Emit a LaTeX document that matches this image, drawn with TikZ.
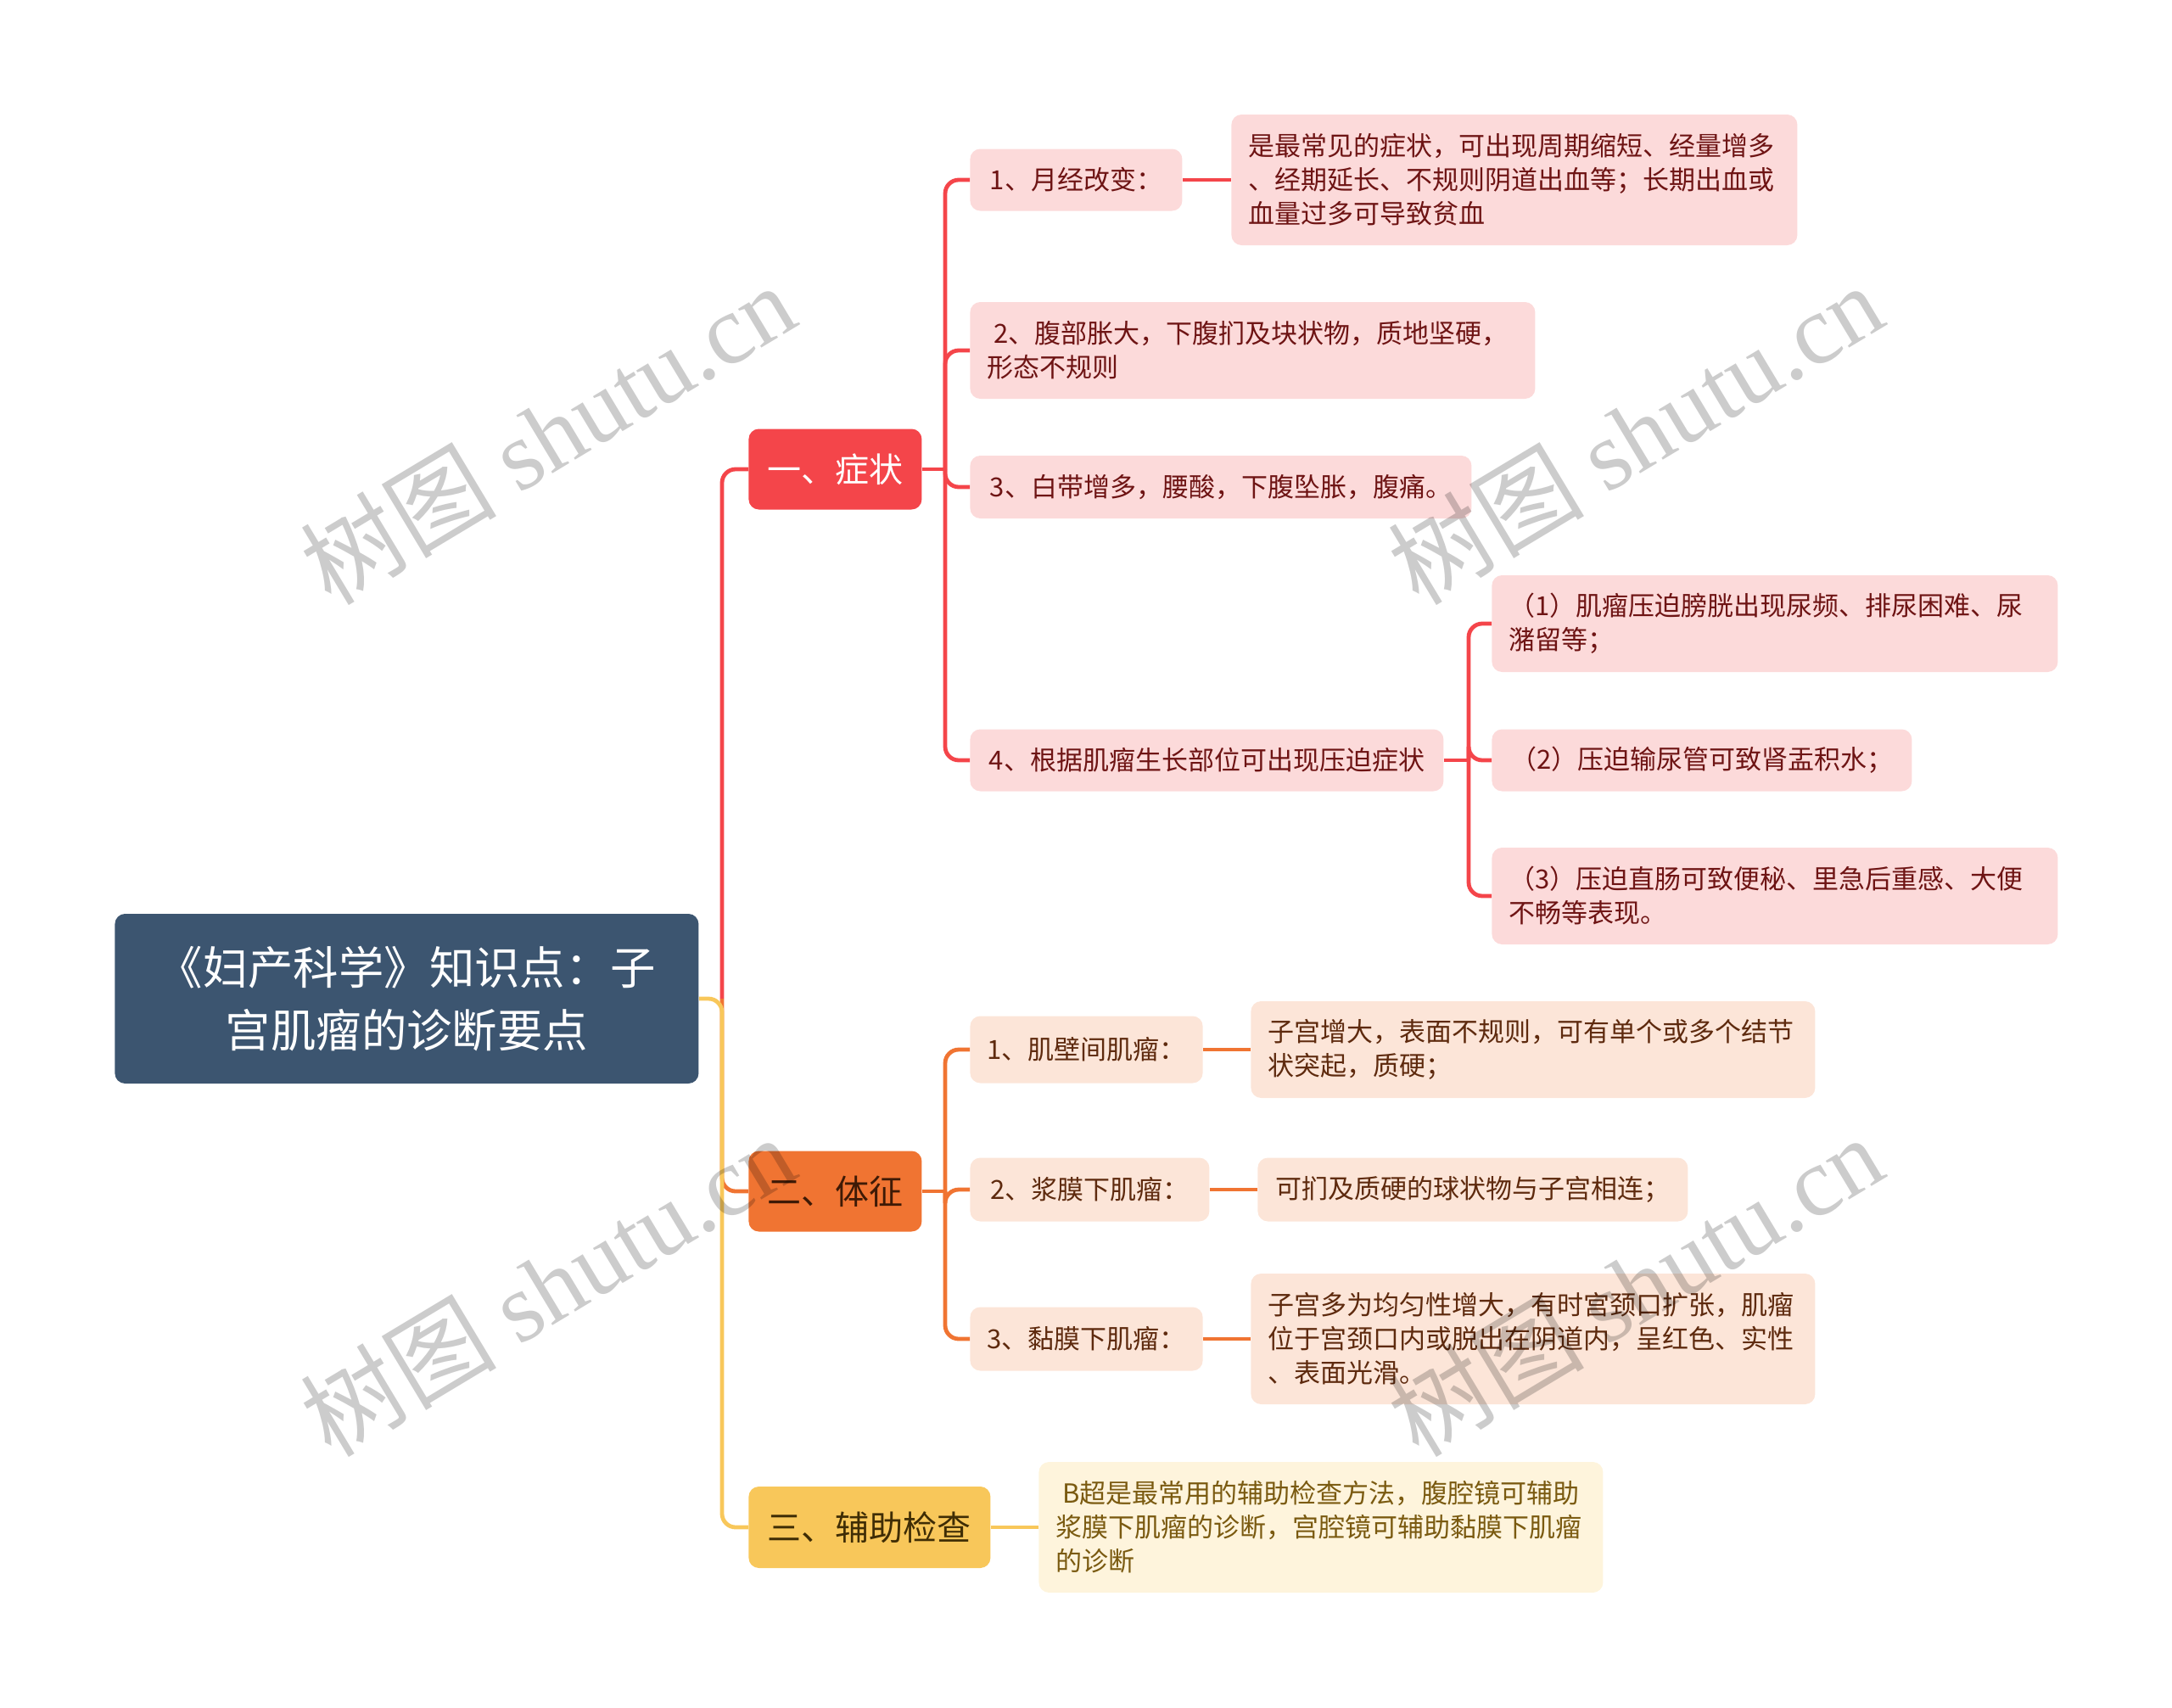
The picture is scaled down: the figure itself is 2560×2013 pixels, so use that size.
\documentclass[tikz,border=0pt]{standalone}
\usepackage{fontspec}
\setmainfont{Noto Sans CJK SC}
\newfontfamily\wmfont{Liberation Serif}
\usepackage{xcolor}
\usetikzlibrary{positioning,calc}

\definecolor{rootblue}{HTML}{3C5570}
\definecolor{zzred}{HTML}{F4454A}
\definecolor{zzfill}{HTML}{FCDADA}
\definecolor{zztext}{HTML}{6E1414}
\definecolor{tzorange}{HTML}{F07432}
\definecolor{tzfill}{HTML}{FCE5D8}
\definecolor{tztext}{HTML}{5E2A0E}
\definecolor{tzdark}{HTML}{3E1A06}
\definecolor{fzyellow}{HTML}{F8C75A}
\definecolor{fzfill}{HTML}{FEF4DC}
\definecolor{fztext}{HTML}{7A5A10}
\definecolor{fzdark}{HTML}{3F2D05}

\begin{document}
\begin{tikzpicture}[x=0.5pt, y=-0.5pt, link/.style = {line width=2.4pt, rounded corners=8pt}]
		\tikzset{box/.style={rectangle, rounded corners=6pt, inner sep=0pt, text centered}}
		\tikzset{leaf/.style={box, font=\fontsize{15.5}{20}\selectfont, align=left, inner xsep=10pt, anchor=west}}
		\tikzset{topic/.style={box, font=\fontsize{20}{24}\selectfont, anchor=west}}

		\useasboundingbox (0,0) rectangle (2560,2013);

		% root
		\node[box, fill=rootblue, text=white, font=\fontsize{26.7}{36.7}\selectfont, align=center, minimum width=344pt, minimum height=100pt, anchor=west] (root) at (135,1177) {《妇产科学》知识点：子\\宫肌瘤的诊断要点};

		% topics
		\node[topic, fill=zzred, text=white, minimum width=102pt, minimum height=47.5pt] (zz) at (882,553) {一、症状};

		\node[topic, fill=tzorange, text=tzdark, minimum width=102pt, minimum height=47.5pt] (tz) at (882,1404) {二、体征};

		\node[topic, fill=fzyellow, text=fzdark, minimum width=142.5pt, minimum height=48pt] (fz) at (882,1800) {三、辅助检查};

		% symptoms
		\node[leaf, fill=zzfill, text=zztext, minimum width=125pt, minimum height=36.5pt] (yj) at (1143,212) {1、月经改变：};

		\node[leaf, fill=zzfill, text=zztext, minimum width=333.5pt, minimum height=77pt, text width=313.5pt] (yjd) at (1451,212) {是最常见的症状，可出现周期缩短、经量增多\\、经期延长、不规则阴道出血等；长期出血或\\血量过多可导致贫血};

		\node[leaf, fill=zzfill, text=zztext, minimum width=333pt, minimum height=57pt, text width=313pt] (fb) at (1143,413) {\hspace{4pt}2、腹部胀大，下腹扪及块状物，质地坚硬，\\形态不规则};

		\node[leaf, fill=zzfill, text=zztext, minimum width=295.5pt, minimum height=37pt] (bd) at (1143,574) {3、白带增多，腰酸，下腹坠胀，腹痛。};

		\node[leaf, fill=zzfill, text=zztext, minimum width=279pt, minimum height=36.5pt] (yp) at (1143,896) {4、根据肌瘤生长部位可出现压迫症状};

		\node[leaf, fill=zzfill, text=zztext, minimum width=333.5pt, minimum height=57pt, text width=313.5pt] (pg) at (1758,735) {（1）肌瘤压迫膀胱出现尿频、排尿困难、尿\\潴留等；};

		\node[leaf, fill=zzfill, text=zztext, minimum width=247.5pt, minimum height=36.5pt] (sy) at (1758,896) {（2）压迫输尿管可致肾盂积水；};

		\node[leaf, fill=zzfill, text=zztext, minimum width=333.5pt, minimum height=57pt, text width=313.5pt] (zc) at (1758,1056) {（3）压迫直肠可致便秘、里急后重感、大便\\不畅等表现。};

		% signs
		\node[leaf, fill=tzfill, text=tztext, minimum width=137pt, minimum height=39.5pt] (jb) at (1143,1237) {1、肌壁间肌瘤：};

		\node[leaf, fill=tzfill, text=tztext, minimum width=332.5pt, minimum height=57pt, text width=312.5pt] (jbd) at (1474,1237) {子宫增大，表面不规则，可有单个或多个结节\\状突起，质硬；};

		\node[leaf, fill=tzfill, text=tztext, minimum width=141pt, minimum height=37.5pt] (jm) at (1143,1402) {2、浆膜下肌瘤：};

		\node[leaf, fill=tzfill, text=tztext, minimum width=253.5pt, minimum height=37.5pt] (jmd) at (1482,1402) {可扪及质硬的球状物与子宫相连；};

		\node[leaf, fill=tzfill, text=tztext, minimum width=137pt, minimum height=37.5pt] (nm) at (1143,1578) {3、黏膜下肌瘤：};

		\node[leaf, fill=tzfill, text=tztext, minimum width=332.5pt, minimum height=77pt, text width=312.5pt] (nmd) at (1474,1578) {子宫多为均匀性增大，有时宫颈口扩张，肌瘤\\位于宫颈口内或脱出在阴道内，呈红色、实性\\、表面光滑。};

		% checks
		\node[leaf, fill=fzfill, text=fztext, minimum width=332.5pt, minimum height=77pt, text width=312.5pt] (fzd) at (1224,1800) {\hspace{4pt}B超是最常用的辅助检查方法，腹腔镜可辅助\\浆膜下肌瘤的诊断，宫腔镜可辅助黏膜下肌瘤\\的诊断};

		% Links
		\coordinate (gen) at (851,1177);
		\coordinate (zzgen) at (1114,553);
		\coordinate (ypgen) at (1731,896);
		\coordinate (tzgen) at (1114,1404);

		\draw [link, draw=zzred] (gen) |- (zz.west);
		\draw [link, draw=tzorange] (gen) |- (tz.west);
		\draw [link, draw=fzyellow] (root.east) -- (gen) |- (fz.west);

		\draw [link, draw=zzred] (zz.east) -- (zzgen);
		\foreach \n in {yj,fb,bd,yp}
			\draw [link, draw=zzred] (zzgen) |- (\n.west);
		\draw [link, draw=zzred] (yj.east) -- (yjd.west);
		\draw [link, draw=zzred] (yp.east) -- (ypgen);
		\foreach \n in {pg,sy,zc}
			\draw [link, draw=zzred] (ypgen) |- (\n.west);

		\draw [link, draw=tzorange] (tz.east) -- (tzgen);
		\foreach \n in {jb,jm,nm}
			\draw [link, draw=tzorange] (tzgen) |- (\n.west);
		\draw [link, draw=tzorange] (jb.east) -- (jbd.west);
		\draw [link, draw=tzorange] (jm.east) -- (jmd.west);
		\draw [link, draw=tzorange] (nm.east) -- (nmd.west);

		\draw [link, draw=fzyellow] (fz.east) -- (fzd.west);

		% watermarks
		\foreach \wx/\wy in {645/511, 1927/511, 645/1515, 1927/1515}
			\node[rotate=31, text=black, opacity=0.2, font=\fontsize{58}{58}\selectfont] (wm) at (\wx,\wy) {树图 {\wmfont shutu.cn}};

	\end{tikzpicture}
\end{document}
